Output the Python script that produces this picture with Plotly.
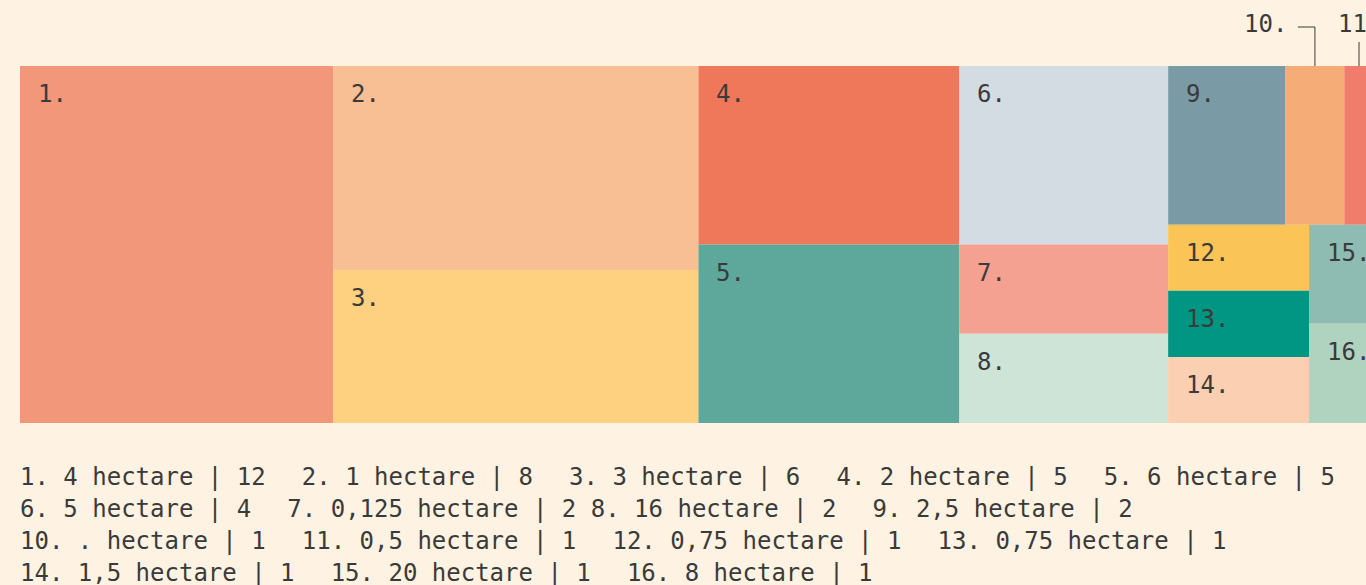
import plotly.graph_objects as go

# plots by size, number of plots per size
labels = [f"{i}." for i in range(1, 17)]
hectares = ["4", "1", "3", "2", "6", "5", "0,125", "16", "2,5", ".",
            "0,5", "0,75", "0,75", "1,5", "20", "8"]
counts = [12, 8, 6, 5, 5, 4, 2, 2, 2, 1, 1, 1, 1, 1, 1, 1]
colors = ["#F3977A", "#F8BE94", "#FDD180", "#EE7859", "#5DA89B", "#D4DCE3",
          "#F4A191", "#CDE4D6", "#7A9AA5", "#F6AC76", "#F07D6C", "#FBC456",
          "#009683", "#FBCFB1", "#8EBCB2", "#B0D3BF"]
legend_rows = [[1, 2, 3, 4, 5], [6, 7, 8, 9], [10, 11, 12, 13], [14, 15, 16]]
outside = {10: "elbow", 11: "up"}  # cells too narrow for their label

BG = "#FEF3E2"
INK = "#3A3A3A"
FONT = "DejaVu Sans Mono"
TREE_W, TREE_H = 1383, 357
X_RANGE = [-20, 1346]
Y_RANGE = [519, -66]
PHI = (1 + 5 ** 0.5) / 2


def squarify(values, x0, y0, x1, y1, ratio=PHI):
    # same rules as d3.treemapSquarify
    rects = [None] * len(values)
    total = sum(values)
    i0, n = 0, len(values)
    while i0 < n:
        dx, dy = x1 - x0, y1 - y0
        i1 = i0 + 1
        s = mn = mx = values[i0]
        alpha = max(dy / dx, dx / dy) / (total * ratio)
        beta = s * s * alpha
        best = max(mx / beta, beta / mn)
        while i1 < n:
            v = values[i1]
            s2, mn2, mx2 = s + v, min(mn, v), max(mx, v)
            beta = s2 * s2 * alpha
            r = max(mx2 / beta, beta / mn2)
            if r > best:
                break
            s, mn, mx, best = s2, mn2, mx2, r
            i1 += 1
        if dx < dy:
            yb = y0 + dy * s / total
            x = x0
            for i in range(i0, i1):
                w = dx * values[i] / s
                rects[i] = (x, y0, x + w, yb)
                x += w
            y0 = yb
        else:
            xb = x0 + dx * s / total
            y = y0
            for i in range(i0, i1):
                h = dy * values[i] / s
                rects[i] = (x0, y, xb, y + h)
                y += h
            x0 = xb
        total -= s
        i0 = i1
    return rects


rects = squarify(counts, 0, 0, TREE_W, TREE_H)

fig = go.Figure()
annotations = []
for i, (x0, y0, x1, y1) in enumerate(rects):
    num = i + 1
    fig.add_trace(go.Scatter(
        x=[x0, x1, x1, x0, x0], y=[y0, y0, y1, y1, y0],
        mode="lines", fill="toself", fillcolor=colors[i],
        line={"width": 0}, showlegend=False,
        hoverinfo="text", hoveron="fills",
        text=f"{labels[i]} {hectares[i]} hectare | {counts[i]}",
    ))
    style = outside.get(num)
    if style is None:
        annotations.append(dict(
            x=x0, y=y0, text=labels[i], xanchor="left", yanchor="top",
            xshift=16, yshift=-12, showarrow=False,
        ))
        continue
    cx = min((x0 + x1) / 2, X_RANGE[1] - 7)
    if style == "elbow":
        fig.add_trace(go.Scatter(
            x=[cx, cx, cx - 17], y=[y0, -39, -39], mode="lines",
            line={"color": INK, "width": 1}, showlegend=False, hoverinfo="skip",
        ))
        annotations.append(dict(x=cx - 26, y=-42, text=labels[i], xanchor="right",
                                yanchor="middle", showarrow=False))
    else:
        fig.add_trace(go.Scatter(
            x=[cx, cx], y=[y0, -24], mode="lines",
            line={"color": INK, "width": 1}, showlegend=False, hoverinfo="skip",
        ))
        annotations.append(dict(x=cx, y=-42, text=labels[i], xanchor="center",
                                yanchor="middle", showarrow=False))

gap = "\u00a0\u00a0<span style='font-size:12px'>\u00a0</span>"
for r, row in enumerate(legend_rows):
    parts = []
    for k, num in enumerate(row):
        item = f"{num}. {hectares[num - 1]} hectare | {counts[num - 1]}"
        if k:
            parts.append("\u00a0" if num == 8 else gap)
        parts.append(item.replace(" ", "\u00a0"))
    annotations.append(dict(
        x=0, y=411 + 32 * r, text="".join(parts), xanchor="left", xshift=-2,
        yanchor="middle", showarrow=False,
    ))

fig.update_layout(
    width=1366, height=585,
    margin={"l": 0, "r": 0, "t": 0, "b": 0},
    paper_bgcolor=BG, plot_bgcolor=BG,
    font={"family": FONT, "size": 24, "color": INK},
    xaxis={"range": X_RANGE, "visible": False, "fixedrange": True},
    yaxis={"range": Y_RANGE, "visible": False, "fixedrange": True},
    annotations=annotations,
    showlegend=False,
)

# page body has a default 8px margin; drop it so the figure sits at the corner
fig.write_html(
    "out.html",
    config={"displayModeBar": False},
    post_script="document.body.style.margin='0';document.body.style.overflow='hidden';"
                f"document.body.style.background='{BG}';",
)
